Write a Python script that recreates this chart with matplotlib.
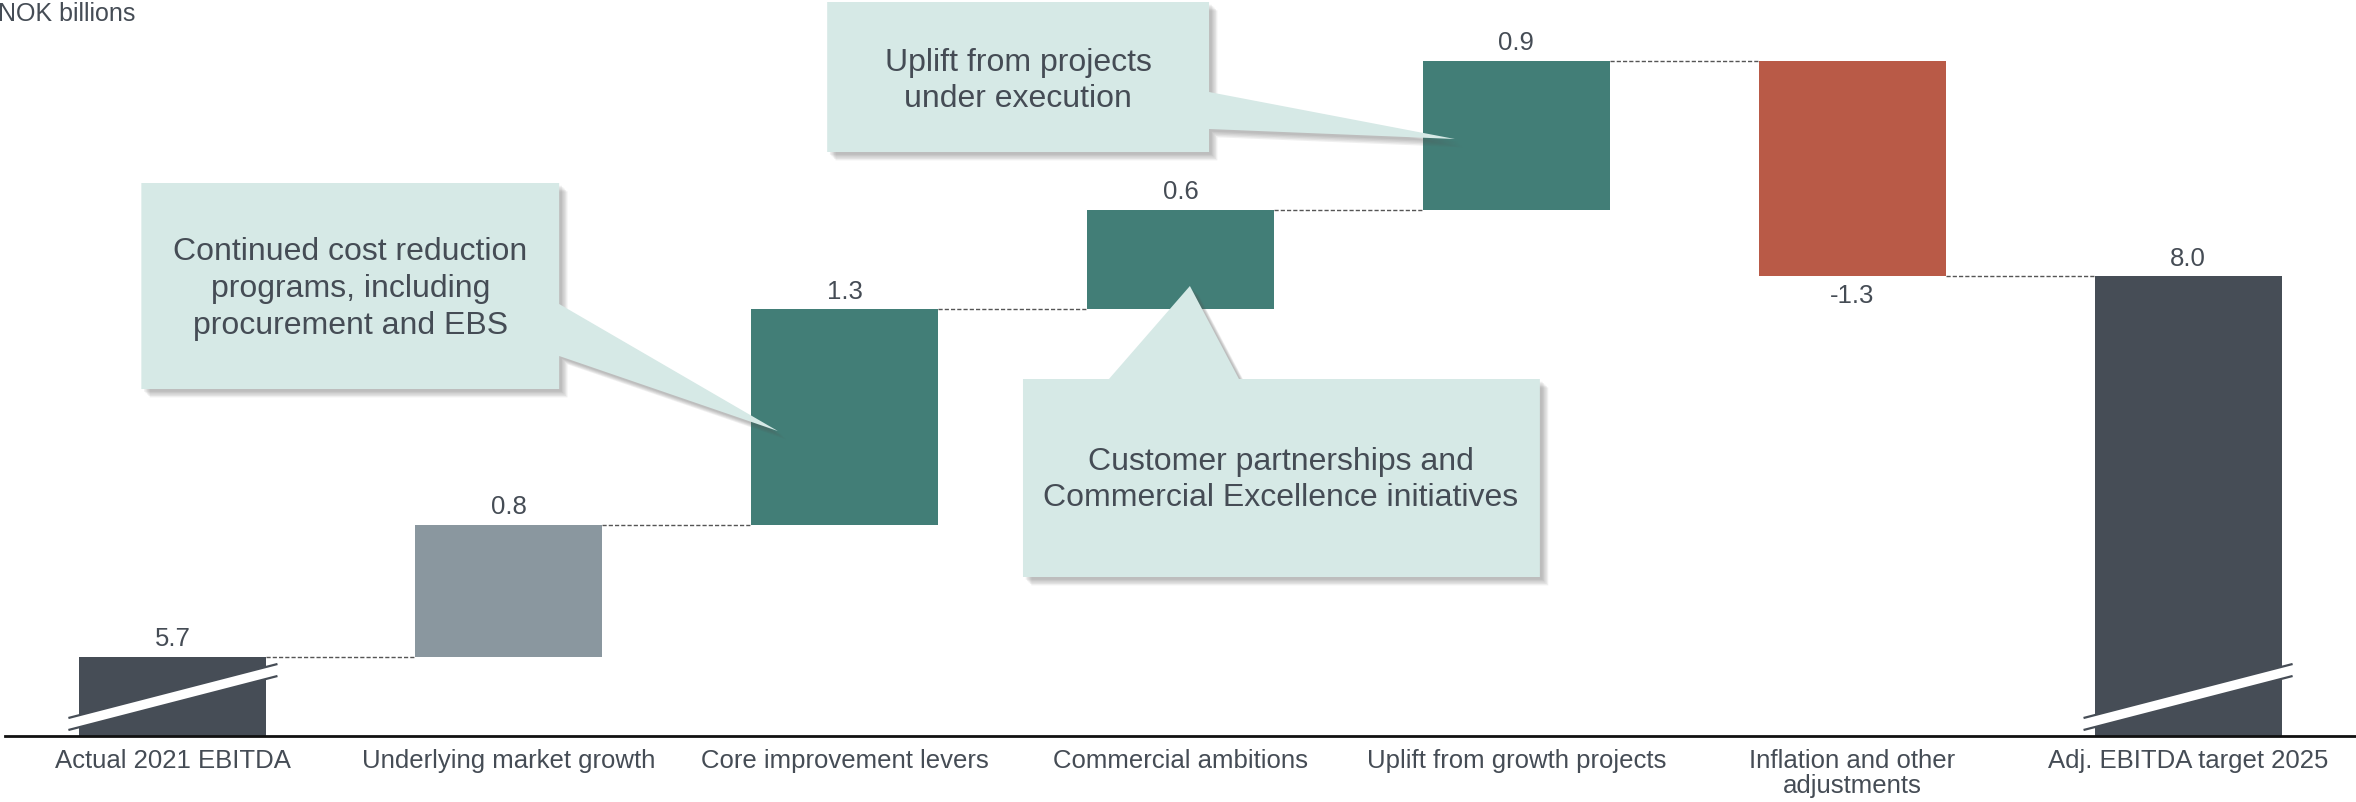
import matplotlib
matplotlib.use('Agg')
import matplotlib.pyplot as plt
import matplotlib.patheffects as pe
from matplotlib.patches import Polygon

plt.rcParams['font.family'] = ['Liberation Sans', 'DejaVu Sans']

categories = ['Actual 2021 EBITDA', 'Underlying market growth', 'Core improvement levers',
              'Commercial ambitions', 'Uplift from growth projects',
              'Inflation and other\nadjustments', 'Adj. EBITDA target 2025']
values = [5.7, 0.8, 1.3, 0.6, 0.9, -1.3, 8.0]
is_total = [True, False, False, False, False, False, True]
bar_colors = ['#464d56', '#8a979f', '#427e77', '#427e77', '#427e77', '#b95a47', '#464d56']

callout_texts = ['Continued cost reduction\nprograms, including\nprocurement and EBS',
                 'Uplift from projects\nunder execution',
                 'Customer partnerships and\nCommercial Excellence initiatives']

TXT = '#454c55'
FILL = '#d6e9e6'

W, H = 2356, 803
PX = 165.5  # pixels per NOK bn
fig = plt.figure(figsize=(W / 100, H / 100), dpi=100)
ax = fig.add_axes([5 / W, 66 / H, 1 - 5 / W, 737 / H])

# broken axis: lower limit sits just below first total
y_low, y_high = 5.7 - 79 / PX, 5.7 + 658 / PX
ax.set_xlim(-0.5, 6.5)
ax.set_ylim(y_low, y_high)

width = 0.5565
level = 0.0
levels = []
for i, (v, tot) in enumerate(zip(values, is_total)):
    if tot:
        bottom, height = y_low, v - y_low
        level = v
    else:
        bottom = level if v > 0 else level + v
        height = abs(v)
        level += v
    levels.append(level)
    ax.bar(i, height, bottom=bottom, width=width, color=bar_colors[i], zorder=2)
    if v > 0:
        ax.annotate(f'{v:.1f}', (i, bottom + height), xytext=(0, 13.5), textcoords='offset points',
                    ha='center', va='center', fontsize=18.5, color=TXT)
    else:
        ax.annotate(f'{v:.1f}', (i, bottom), xytext=(0, -13.5), textcoords='offset points',
                    ha='center', va='center', fontsize=18.5, color=TXT)

    # break marks on the total bars
    if tot:
        px = 1 / PX
        xl, xr = i - width / 2 - 0.033, i + width / 2 + 0.033
        yl, yr = y_low + 12 * px, y_low + 66 * px
        hw = 6 * px
        band = Polygon([(xl, yl - hw), (xr, yr - hw), (xr, yr + hw), (xl, yl + hw)],
                       closed=True, facecolor='white', edgecolor='none', zorder=3)
        ax.add_patch(band)
        for s in (-1, 1):
            ax.plot([xl, xr], [yl + s * hw, yr + s * hw], color=bar_colors[i], lw=1.6, zorder=4,
                    solid_capstyle='butt')

# dashed connectors
for i in range(len(values) - 1):
    ax.plot([i + width / 2, i + 1 - width / 2], [levels[i], levels[i]],
            color='#555555', lw=1.0, ls=(0, (3, 1.5)), zorder=1)


def ypx(p):
    # pixel row (from top) -> data value
    return 5.7 - (p - 658) / PX


# callouts (box + wedge as one polygon), pixel rows converted to data
c1 = [(-0.094, ypx(184)), (1.150, ypx(184)), (1.150, ypx(305)), (1.801, ypx(432)),
      (1.150, ypx(357)), (1.150, ypx(390)), (-0.094, ypx(390))]
c2 = [(1.948, ypx(3)), (3.085, ypx(3)), (3.085, ypx(93)), (3.817, ypx(140)),
      (3.085, ypx(130)), (3.085, ypx(153)), (1.948, ypx(153))]
c3 = [(2.531, ypx(380)), (2.787, ypx(380)), (3.028, ypx(287)), (3.174, ypx(380)),
      (4.070, ypx(380)), (4.070, ypx(578)), (2.531, ypx(578))]
text_pos = [(0.528, ypx(289)), (2.516, ypx(81)), (3.299, ypx(480))]

# soft shadow: stacked faint offsets
shadow = [pe.SimplePatchShadow(offset=(d, -d), shadow_rgbFace='#555555', alpha=0.09)
          for d in (6, 5, 4, 3, 2)] + [pe.Normal()]

for poly, txt, (tx, ty) in zip([c1, c2, c3], callout_texts, text_pos):
    p = Polygon(poly, closed=True, facecolor=FILL, edgecolor='none', zorder=5)
    p.set_path_effects(shadow)
    ax.add_patch(p)
    ax.text(tx, ty, txt, ha='center', va='center', fontsize=23, color=TXT, zorder=6,
            linespacing=1.3)

ax.set_xticks(range(len(categories)))
ax.set_xticklabels(categories, fontsize=18.5, color=TXT, linespacing=1.05)
ax.tick_params(axis='x', length=0, pad=9)
ax.set_yticks([])
for s in ['top', 'right', 'left']:
    ax.spines[s].set_visible(False)
ax.spines['bottom'].set_linewidth(2)
ax.spines['bottom'].set_color('#111111')

fig.text(-0.001, 1 - 14 / H, 'NOK billions', ha='left', va='center', fontsize=18, color=TXT)

fig.savefig('out.png', dpi=100)
